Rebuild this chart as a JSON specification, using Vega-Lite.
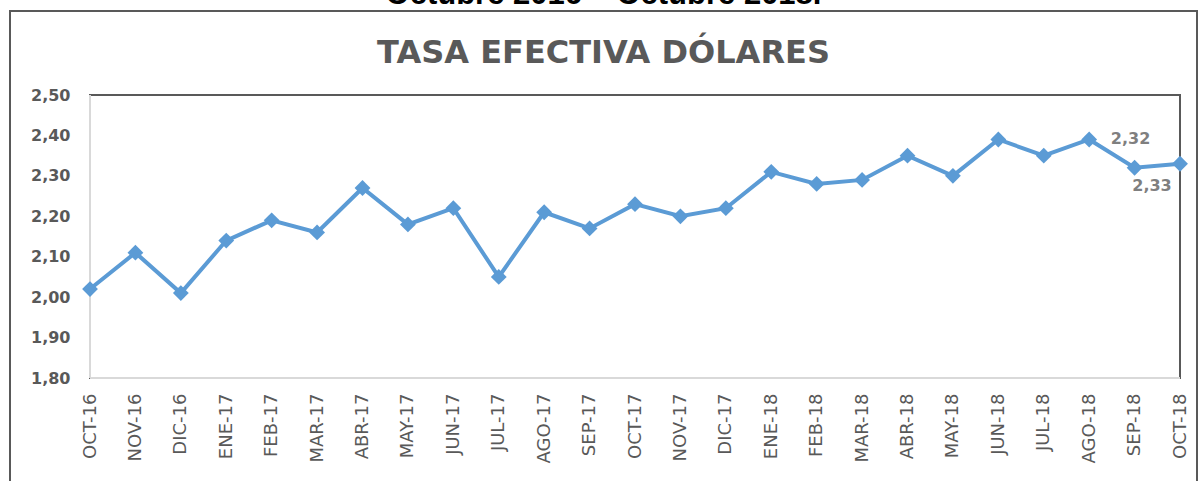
{
  "$schema": "https://vega.github.io/schema/vega-lite/v6.json",
  "autosize": {"type": "none"},
  "padding": {"left": 10, "top": 11, "right": 3, "bottom": -5},
  "width": 1187,
  "height": 475,
  "background": "white",
  "config": {
    "view": {"stroke": "#595959", "strokeWidth": 2},
    "locale": {"number": {"decimal": ",", "thousands": ".", "grouping": [3], "currency": ["", " €"]}}
  },
  "title": {
    "text": "Octubre 2016 – Octubre 2018.",
    "font": "Liberation Sans",
    "fontSize": 31,
    "fontWeight": "bold",
    "color": "#000000",
    "subtitle": "TASA EFECTIVA DÓLARES",
    "subtitleFont": "DejaVu Sans",
    "subtitleFontSize": 32,
    "subtitleFontWeight": "bold",
    "subtitleColor": "#595959",
    "subtitlePadding": 27,
    "offset": -59,
    "anchor": "middle"
  },
  "data": {
    "values": [
      {"mes": "OCT-16", "i": 0, "tasa": 2.02},
      {"mes": "NOV-16", "i": 1, "tasa": 2.11},
      {"mes": "DIC-16", "i": 2, "tasa": 2.01},
      {"mes": "ENE-17", "i": 3, "tasa": 2.14},
      {"mes": "FEB-17", "i": 4, "tasa": 2.19},
      {"mes": "MAR-17", "i": 5, "tasa": 2.16},
      {"mes": "ABR-17", "i": 6, "tasa": 2.27},
      {"mes": "MAY-17", "i": 7, "tasa": 2.18},
      {"mes": "JUN-17", "i": 8, "tasa": 2.22},
      {"mes": "JUL-17", "i": 9, "tasa": 2.05},
      {"mes": "AGO-17", "i": 10, "tasa": 2.21},
      {"mes": "SEP-17", "i": 11, "tasa": 2.17},
      {"mes": "OCT-17", "i": 12, "tasa": 2.23},
      {"mes": "NOV-17", "i": 13, "tasa": 2.20},
      {"mes": "DIC-17", "i": 14, "tasa": 2.22},
      {"mes": "ENE-18", "i": 15, "tasa": 2.31},
      {"mes": "FEB-18", "i": 16, "tasa": 2.28},
      {"mes": "MAR-18", "i": 17, "tasa": 2.29},
      {"mes": "ABR-18", "i": 18, "tasa": 2.35},
      {"mes": "MAY-18", "i": 19, "tasa": 2.30},
      {"mes": "JUN-18", "i": 20, "tasa": 2.39},
      {"mes": "JUL-18", "i": 21, "tasa": 2.35},
      {"mes": "AGO-18", "i": 22, "tasa": 2.39},
      {"mes": "SEP-18", "i": 23, "tasa": 2.32},
      {"mes": "OCT-18", "i": 24, "tasa": 2.33}
    ]
  },
  "encoding": {
    "x": {
      "field": "i",
      "type": "quantitative",
      "scale": {"domain": [-1.7615, 24.3743], "nice": false, "zero": false},
      "axis": {
        "orient": "bottom",
        "offset": -108,
        "values": [0,1,2,3,4,5,6,7,8,9,10,11,12,13,14,15,16,17,18,19,20,21,22,23,24],
        "labelExpr": "['OCT-16','NOV-16','DIC-16','ENE-17','FEB-17','MAR-17','ABR-17','MAY-17','JUN-17','JUL-17','AGO-17','SEP-17','OCT-17','NOV-17','DIC-17','ENE-18','FEB-18','MAR-18','ABR-18','MAY-18','JUN-18','JUL-18','AGO-18','SEP-18','OCT-18'][datum.value]",
        "labelAngle": -90,
        "labelFont": "DejaVu Sans",
        "labelFontSize": 18,
        "labelColor": "#595959",
        "labelPadding": 15,
        "labelOverlap": false,
        "labelFlush": false,
        "ticks": false,
        "tickSize": 0,
        "domain": false,
        "grid": false,
        "title": null
      }
    },
    "y": {
      "field": "tasa",
      "type": "quantitative",
      "scale": {"domain": [1.53286, 2.7078], "nice": false, "zero": false},
      "axis": {
        "orient": "left",
        "offset": -80,
        "values": [1.8, 1.9, 2.0, 2.1, 2.2, 2.3, 2.4, 2.5],
        "format": ".2f",
        "labelFont": "DejaVu Sans",
        "labelFontSize": 16,
        "labelFontWeight": "bold",
        "labelColor": "#595959",
        "labelPadding": 20,
        "labelOverlap": false,
        "labelFlush": false,
        "ticks": false,
        "tickSize": 0,
        "domain": false,
        "grid": false,
        "title": null
      }
    }
  },
  "layer": [
    {
      "mark": {"type": "rect", "fill": null, "fillOpacity": 0, "stroke": "#595959", "strokeWidth": 2},
      "encoding": {
        "x": {"datum": 0},
        "x2": {"datum": 24},
        "y": {"datum": 1.8},
        "y2": {"datum": 2.5}
      }
    },
    {
      "mark": {"type": "rule", "color": "#d9d9d9", "strokeWidth": 2},
      "encoding": {
        "x": {"datum": 0},
        "x2": {"datum": 24},
        "y": {"datum": 1.8}
      }
    },
    {
      "mark": {"type": "rule", "color": "#d9d9d9", "strokeWidth": 2},
      "encoding": {
        "x": {"datum": 0},
        "y": {"datum": 1.8},
        "y2": {"datum": 2.5}
      }
    },
    {
      "mark": {"type": "line", "color": "#5B9BD5", "strokeWidth": 4}
    },
    {
      "mark": {"type": "point", "shape": "diamond", "size": 250, "filled": true, "color": "#5B9BD5", "opacity": 1}
    },
    {
      "transform": [{"filter": "datum.mes == 'SEP-18'"}],
      "mark": {"type": "text", "dx": -4, "dy": -29, "font": "DejaVu Sans", "fontSize": 16, "fontWeight": "bold", "color": "#7f7f7f"},
      "encoding": {"text": {"field": "tasa", "type": "quantitative", "format": ".2f"}}
    },
    {
      "transform": [{"filter": "datum.mes == 'OCT-18'"}],
      "mark": {"type": "text", "dx": -28, "dy": 22, "font": "DejaVu Sans", "fontSize": 16, "fontWeight": "bold", "color": "#7f7f7f"},
      "encoding": {"text": {"field": "tasa", "type": "quantitative", "format": ".2f"}}
    }
  ]
}
